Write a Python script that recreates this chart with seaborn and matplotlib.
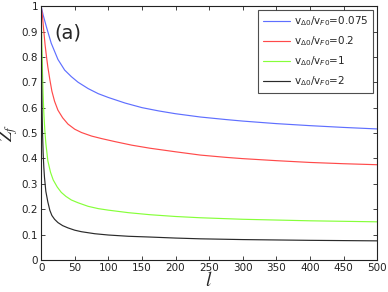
import pandas as pd
import seaborn as sns
import matplotlib.pyplot as plt
from matplotlib.ticker import MultipleLocator

# values
l_blue = [0, 3, 8, 15, 25, 35, 45, 55, 70, 85, 100, 125, 150, 175, 200, 237,
          275, 300, 350, 400, 450, 500]
z_blue = [1.0, 0.965, 0.917, 0.854, 0.79, 0.748, 0.722, 0.70, 0.675, 0.655,
          0.64, 0.618, 0.60, 0.587, 0.576, 0.563, 0.553, 0.547, 0.537, 0.529,
          0.522, 0.516]

l_red = [0, 2, 4, 6, 8, 10, 13, 16, 20, 25, 32, 40, 50, 60, 75, 90, 110, 135,
         162, 200, 237, 275, 300, 350, 400, 450, 500]
z_red = [1.0, 0.96, 0.90, 0.845, 0.80, 0.76, 0.71, 0.665, 0.625, 0.59, 0.56,
         0.535, 0.515, 0.502, 0.488, 0.478, 0.466, 0.452, 0.44, 0.426, 0.413,
         0.404, 0.399, 0.391, 0.384, 0.379, 0.375]

l_green = [0, 0.5, 1, 2, 3, 4, 5.5, 7, 10, 14, 18, 24, 30, 37, 45, 55, 70, 85,
           100, 130, 162, 200, 237, 300, 400, 500]
z_green = [1.0, 0.93, 0.86, 0.74, 0.65, 0.58, 0.51, 0.46, 0.39, 0.345, 0.315,
           0.287, 0.266, 0.25, 0.236, 0.225, 0.211, 0.202, 0.196, 0.186, 0.178,
           0.171, 0.166, 0.16, 0.154, 0.15]

l_black = [0, 0.5, 1, 1.5, 2, 3, 4, 5, 7, 10, 13, 16, 20, 25, 32, 40, 50, 60,
           80, 100, 130, 162, 200, 237, 300, 400, 500]
z_black = [1.0, 0.82, 0.68, 0.58, 0.51, 0.42, 0.365, 0.325, 0.27, 0.228, 0.195,
           0.175, 0.16, 0.147, 0.135, 0.126, 0.117, 0.111, 0.103, 0.098, 0.093,
           0.09, 0.086, 0.083, 0.08, 0.077, 0.075]

labels = [r'v$_{\Delta0}$/v$_{F0}$=0.075', r'v$_{\Delta0}$/v$_{F0}$=0.2',
          r'v$_{\Delta0}$/v$_{F0}$=1', r'v$_{\Delta0}$/v$_{F0}$=2']
colors = ['#5f6fff', '#ff4a4a', '#86ff3a', '#2a2a2a']

frames = []
for lab, l, z in zip(labels, [l_blue, l_red, l_green, l_black],
                     [z_blue, z_red, z_green, z_black]):
    frames.append(pd.DataFrame({'l': l, 'Z': z, 'series': lab}))
df = pd.concat(frames, ignore_index=True)

sns.set_style('ticks')
plt.rcParams['font.family'] = ['DejaVu Sans']
plt.rcParams['mathtext.fontset'] = 'dejavusans'

fig = plt.figure(figsize=(3.88, 2.92), dpi=100)
ax = fig.add_axes([0.106, 0.110, 0.866, 0.869])
sns.lineplot(data=df, x='l', y='Z', hue='series', palette=colors,
             hue_order=labels, sort=True, estimator=None, linewidth=0.85, ax=ax)

ax.set_xlim(0, 500)
ax.set_ylim(0, 1)
ax.xaxis.set_major_locator(MultipleLocator(50))
ax.yaxis.set_major_locator(MultipleLocator(0.1))
ax.yaxis.set_major_formatter(plt.FuncFormatter(lambda v, p: '%g' % round(v, 1)))
ax.tick_params(direction='in', top=True, right=True, length=3, width=0.6,
               labelsize=7.5, colors='#222222', pad=2)
for s in ax.spines.values():
    s.set_linewidth(0.8)
    s.set_color('#222222')

ax.set_xlabel(r'$l$', fontsize=14, labelpad=-1, math_fontfamily='stix')
ax.set_ylabel(r'$Z_f$', fontsize=13, math_fontfamily='stix')
ax.yaxis.set_label_coords(-0.062, 0.5)
ax.text(0.04, 0.93, '(a)', transform=ax.transAxes, fontsize=14, va='top')

leg = ax.legend(loc='upper right', fontsize=7.5, frameon=True, fancybox=False,
                edgecolor='#222222', borderpad=0.45, labelspacing=0.6,
                handlelength=2.6, handletextpad=0.4, borderaxespad=0.35)
leg.get_frame().set_linewidth(0.8)

fig.savefig('out.png', dpi=100)
